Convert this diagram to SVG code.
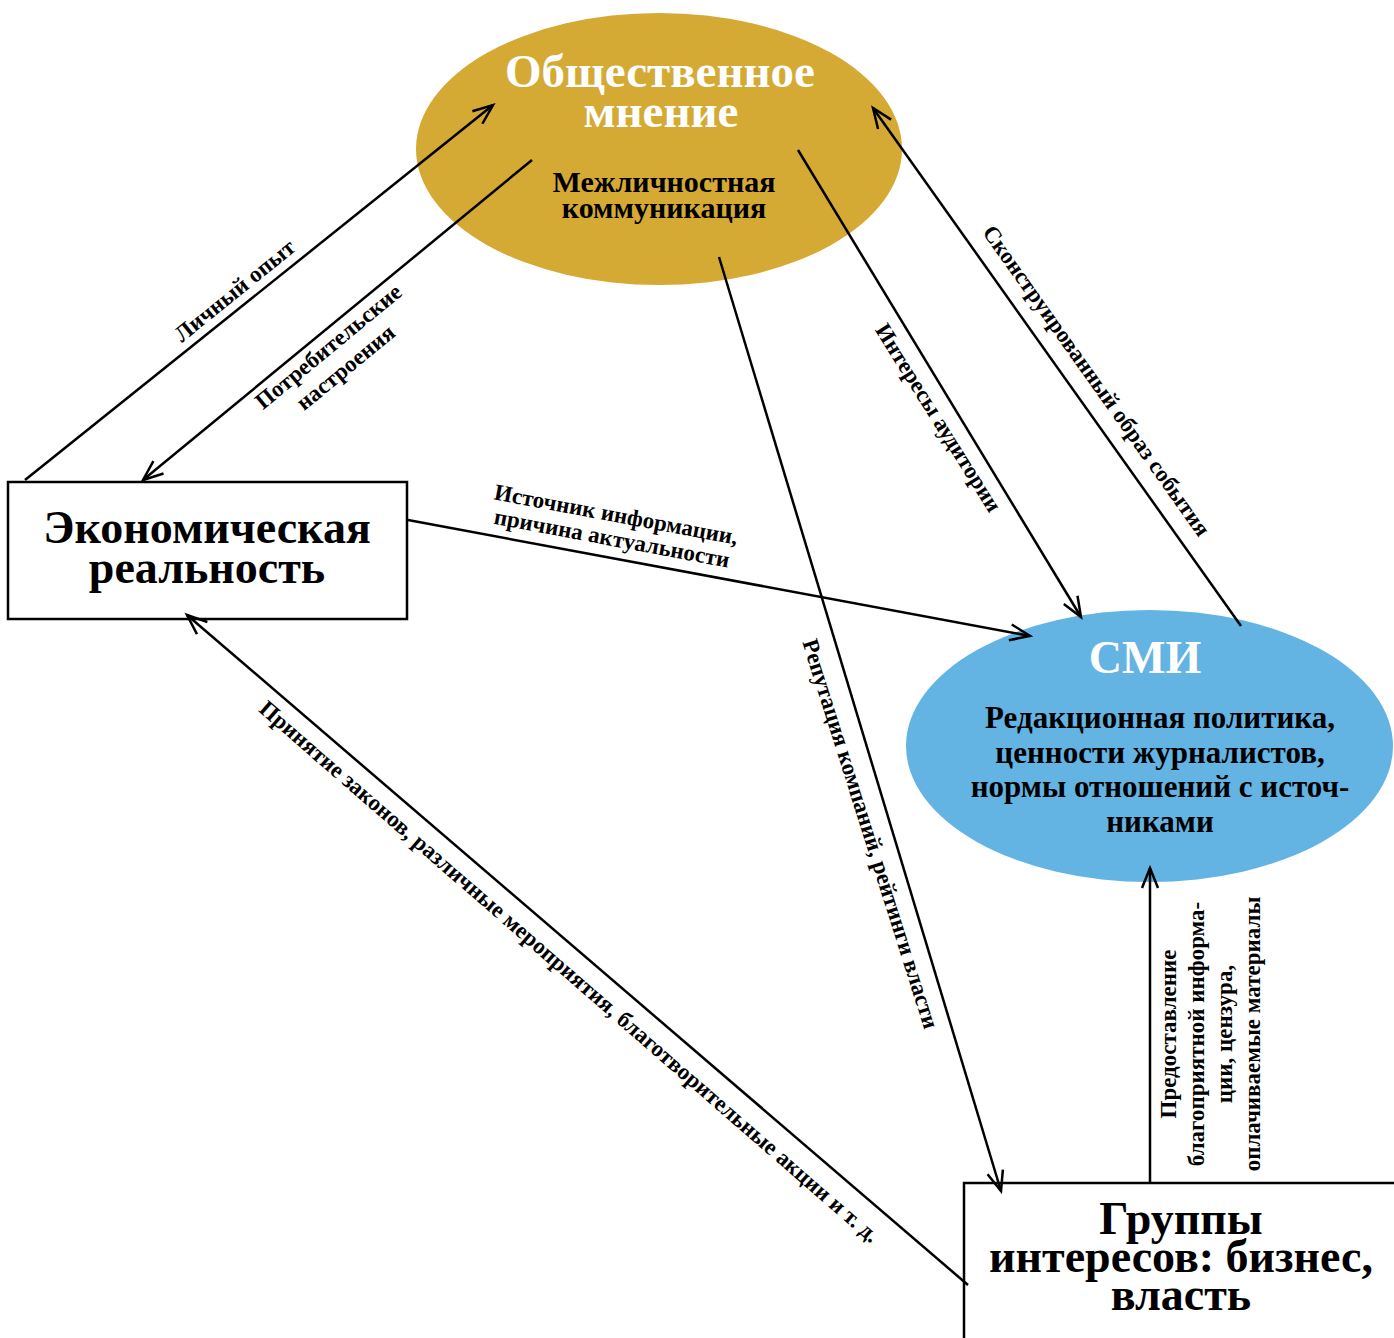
<svg xmlns="http://www.w3.org/2000/svg" width="1394" height="1338" viewBox="0 0 1394 1338">
<defs>
<marker id="arr" markerUnits="userSpaceOnUse" markerWidth="26" markerHeight="26" viewBox="0 0 26 26" refX="22" refY="13" orient="auto">
<path d="M2,5 L22,13 L2,21" fill="none" stroke="#000" stroke-width="2.5"/>
</marker>
<style>
text{font-family:"Liberation Serif","Times New Roman",serif;font-weight:bold;}
.t{fill:#fff;text-anchor:middle;}
.b{fill:#000;text-anchor:middle;}
.lbl{fill:#000;text-anchor:middle;font-size:23px;}
.c{stroke:#000;stroke-width:2.5;fill:none;}
.box{fill:#fff;stroke:#000;stroke-width:2.5;}
</style>
</defs>
<rect width="1394" height="1338" fill="#fff"/>
<g id="node-opinion">
<ellipse cx="659" cy="149" rx="243" ry="136" fill="#D4AA35"/>
<text class="t" x="660" y="87" font-size="47">Общественное</text>
<text class="t" x="661" y="127" font-size="47">мнение</text>
<text class="b" x="664" y="192" font-size="30">Межличностная</text>
<text class="b" x="664" y="218" font-size="30">коммуникация</text>
</g>
<g id="node-economy">
<rect class="box" x="8" y="482" width="399" height="137"/>
<text class="b" x="207" y="543" font-size="46">Экономическая</text>
<text class="b" x="207" y="583" font-size="46">реальность</text>
</g>
<g id="node-media">
<ellipse cx="1149.5" cy="746" rx="243.5" ry="136" fill="#63B3E3"/>
<text class="t" x="1145" y="673" font-size="46">СМИ</text>
<text class="b" x="1160" y="728" font-size="31">Редакционная политика,</text>
<text class="b" x="1160" y="763" font-size="31">ценности журналистов,</text>
<text class="b" x="1160" y="797" font-size="31">нормы отношений с источ-</text>
<text class="b" x="1160" y="832" font-size="31">никами</text>
</g>
<g id="node-groups">
<rect class="box" x="964" y="1183" width="450" height="180"/>
<text class="b" x="1181" y="1234" font-size="46">Группы</text>
<text class="b" x="1181" y="1272" font-size="46">интересов: бизнес,</text>
<text class="b" x="1181" y="1310" font-size="46">власть</text>
</g>
<g id="connectors">
<line class="c" x1="25" y1="480" x2="493" y2="105" marker-end="url(#arr)"/>
<line class="c" x1="532" y1="160" x2="143" y2="480" marker-end="url(#arr)"/>
<line class="c" x1="408" y1="520" x2="1030" y2="636" marker-end="url(#arr)"/>
<line class="c" x1="798" y1="150" x2="1081" y2="617" marker-end="url(#arr)"/>
<line class="c" x1="1241" y1="626" x2="873" y2="108" marker-end="url(#arr)"/>
<line class="c" x1="719" y1="257" x2="1001" y2="1191" marker-end="url(#arr)"/>
<line class="c" x1="968" y1="1285" x2="187" y2="615" marker-end="url(#arr)"/>
<line class="c" x1="1150" y1="1183" x2="1150" y2="868" marker-end="url(#arr)"/>
</g>
<g id="labels">
<text class="lbl" transform="translate(235,291) rotate(-39)" y="7">Личный опыт</text>
<text class="lbl" transform="translate(337,357) rotate(-39.5)"><tspan x="0" y="-6">Потребительские</tspan><tspan x="0" y="21">настроения</tspan></text>
<text class="lbl" transform="translate(614,527) rotate(10.6)"><tspan x="0" y="-5">Источник информации,</tspan><tspan x="0" y="19">причина актуальности</tspan></text>
<text class="lbl" transform="translate(938,418) rotate(58)" y="7">Интересы аудитории</text>
<text class="lbl" transform="translate(1096,381) rotate(54.6)" y="7">Сконструированный образ события</text>
<text class="lbl" transform="translate(870,834) rotate(72.5)" y="7">Репутация компаний, рейтинги власти</text>
<text class="lbl" transform="translate(569,972) rotate(41)" y="7">Принятие законов, различные мероприятия, благотворительные акции и т. д.</text>
<text class="lbl" transform="translate(1210,1034) rotate(-90)"><tspan x="0" y="-34">Предоставление</tspan><tspan x="0" y="-6">благоприятной информа-</tspan><tspan x="0" y="22">ции, цензура,</tspan><tspan x="0" y="50">оплачиваемые материалы</tspan></text>
</g>
</svg>
